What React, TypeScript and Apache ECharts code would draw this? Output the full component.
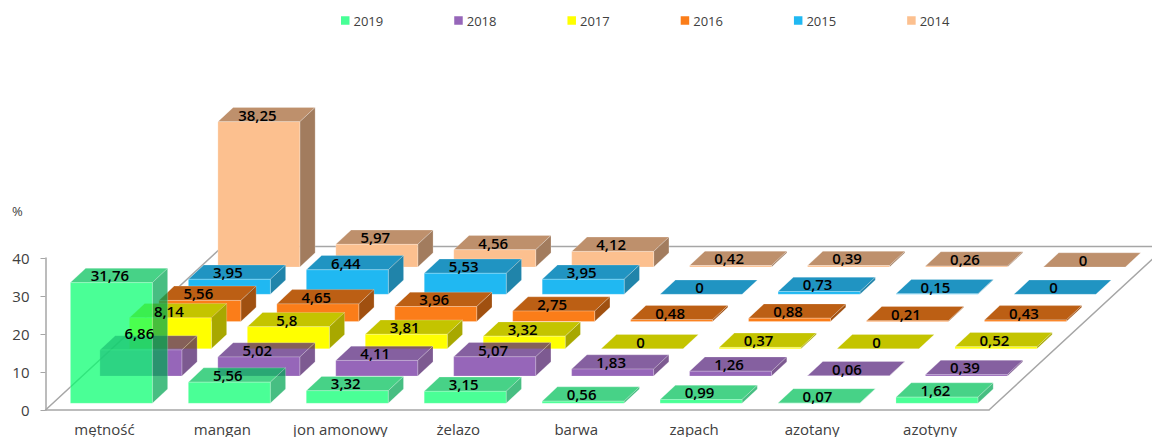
import React, { useEffect, useRef } from "react";
import * as echarts from "echarts";

const categories = ["mętność", "mangan", "jon amonowy", "żelazo", "barwa", "zapach", "azotany", "azotyny"];
const years = ["2019", "2018", "2017", "2016", "2015", "2014"];
const v2019 = [31.76, 5.56, 3.32, 3.15, 0.56, 0.99, 0.07, 1.62];
const v2018 = [6.86, 5.02, 4.11, 5.07, 1.83, 1.26, 0.06, 0.39];
const v2017 = [8.14, 5.8, 3.81, 3.32, 0, 0.37, 0, 0.52];
const v2016 = [5.56, 4.65, 3.96, 2.75, 0.48, 0.88, 0.21, 0.43];
const v2015 = [3.95, 6.44, 5.53, 3.95, 0, 0.73, 0.15, 0];
const v2014 = [38.25, 5.97, 4.56, 4.12, 0.42, 0.39, 0.26, 0];
const rows = [v2019, v2018, v2017, v2016, v2015, v2014];

const faces = [
  { front: "rgba(4,255,110,0.72)", top: "rgba(0,193,89,0.72)", side: "rgba(0,165,82,0.72)", legend: "#47ff96" },
  { front: "rgba(110,43,158,0.72)", top: "rgba(86,35,124,0.72)", side: "rgba(75,26,103,0.72)", legend: "#9666b9" },
  { front: "#ffff00", top: "#c4c400", side: "#a8a800", legend: "#ffff00" },
  { front: "#fb7d19", top: "#bc5f14", side: "#a05010", legend: "#fb7d19" },
  { front: "#20b8f2", top: "#2094c2", side: "#2084aa", legend: "#20b8f2" },
  { front: "#fcc08f", top: "#be906c", side: "#a27c5e", legend: "#fcc08f" },
];

const ROW_DX = 29.5;
const ROW_DY = 27.25;
const BAR_RATIO = 82 / 118;
const TOP_DX = 15.3;
const TOP_DY = 14.3;
const ROW_COUNT = 6;
const EDGE = "rgba(255,255,255,0.45)";

function barItem(rowIndex: number) {
  return (params: any, api: any) => {
    const cat = api.value(0);
    const val = api.value(1);
    const base = api.coord([cat, 0]);
    const w = api.size([1, 0])[0] * BAR_RATIO;
    const h = api.size([0, val])[1];
    const f = faces[rowIndex];
    const x = base[0] - w / 2 + 6.9 + rowIndex * ROW_DX;
    const yb = base[1] - 6.7 - rowIndex * ROW_DY;
    const yt = yb - h;
    const z = (ROW_COUNT - rowIndex) * 10;
    const label = String(val).replace(".", ",");
    // the reference lifts the label of the first 2018 bar clear of its neighbour
    const lift = rowIndex === 1 && cat === 0 ? 9.5 : 0;
    const children: any[] = [
      {
        type: "polygon",
        z2: z,
        shape: { points: [[x, yt], [x + TOP_DX, yt - TOP_DY], [x + w + TOP_DX, yt - TOP_DY], [x + w, yt]] },
        style: { fill: f.top, stroke: EDGE, lineWidth: 0.5 },
      },
      {
        type: "text",
        z2: 1000,
        silent: true,
        style: {
          x: x + w / 2 - 1.5,
          y: yt - 7.2 - lift,
          text: label,
          fill: "#000000",
          align: "center",
          verticalAlign: "middle",
          font: '600 15px "Open Sans"',
        },
      },
    ];
    if (h > 0) {
      children.push(
        {
          type: "polygon",
          z2: z,
          shape: { points: [[x + w, yt], [x + w + TOP_DX, yt - TOP_DY], [x + w + TOP_DX, yb - TOP_DY], [x + w, yb]] },
          style: { fill: f.side, stroke: EDGE, lineWidth: 0.5 },
        },
        {
          type: "rect",
          z2: z,
          shape: { x, y: yt, width: w, height: h },
          style: { fill: f.front, stroke: EDGE, lineWidth: 0.5 },
        }
      );
    }
    return { type: "group", children };
  };
}

function floorItem(params: any, api: any) {
  const first = api.coord([0, 0]);
  const last = api.coord([categories.length - 1, 0]);
  const half = api.size([1, 0])[0] / 2;
  const x0 = first[0] - half;
  const x1 = last[0] + half;
  const y0 = first[1];
  const dx = ROW_COUNT * ROW_DX;
  const dy = ROW_COUNT * ROW_DY;
  const style = { stroke: "#a6a6a6", lineWidth: 1.5, fill: "none" };
  return {
    type: "polyline",
    z2: 1,
    shape: { points: [[x0, y0], [x0 + dx, y0 - dy], [x1 + dx, y0 - dy], [x1, y0]] },
    style,
  };
}

export default function App() {
  const ref = useRef<HTMLDivElement>(null);
  useEffect(() => {
    const chart = echarts.init(ref.current!, null, { renderer: "svg" });
    const series: any[] = [
      {
        type: "custom",
        renderItem: floorItem,
        data: [[0, 0]],
        silent: true,
        clip: false,
        encode: { x: 0, y: 1 },
      },
    ];
    [5, 4, 3, 2, 1, 0].forEach((r) => {
      series.push({
        type: "custom",
        name: years[r],
        clip: false,
        renderItem: barItem(r),
        itemStyle: { color: faces[r].legend },
        encode: { x: 0, y: 1 },
        data: rows[r].map((v, i) => [i, v]),
      });
    });
    chart.setOption({
      animation: false,
      backgroundColor: "#ffffff",
      textStyle: { fontFamily: '"Open Sans"' },
      grid: { left: 45.5, top: 258, width: 943.5, height: 152, containLabel: false },
      legend: {
        data: years,
        left: 336,
        top: 9,
        icon: "rect",
        itemWidth: 8.5,
        itemHeight: 8.5,
        itemGap: 71,
        textStyle: { color: "#404040", fontSize: 13, fontFamily: '"Open Sans"', padding: [0, 0, 0, -1] },
      },
      xAxis: {
        type: "category",
        data: categories,
        axisLine: { lineStyle: { color: "#a6a6a6", width: 1.5 } },
        axisTick: { length: 4, lineStyle: { color: "#a6a6a6", width: 1 } },
        axisLabel: { color: "#404040", fontSize: 15, margin: 11, interval: 0, fontFamily: '"Open Sans"' },
      },
      yAxis: {
        type: "value",
        min: 0,
        max: 40,
        interval: 10,
        splitLine: { show: false },
        axisLine: { show: true, lineStyle: { color: "#a6a6a6", width: 1.5 } },
        axisTick: { show: true, length: 5, lineStyle: { color: "#a6a6a6", width: 1 } },
        axisLabel: { color: "#404040", fontSize: 15, margin: 16, fontFamily: '"Open Sans"' },
      },
      graphic: [
        {
          type: "text",
          x: 12,
          y: 204,
          style: { text: "%", fill: "#404040", font: '13px "Open Sans"' },
        },
      ],
      series,
    });
    return () => chart.dispose();
  }, []);
  return <div ref={ref} style={{ position: "fixed", left: 0, top: 0, width: 1152, height: 437 }} />;
}
